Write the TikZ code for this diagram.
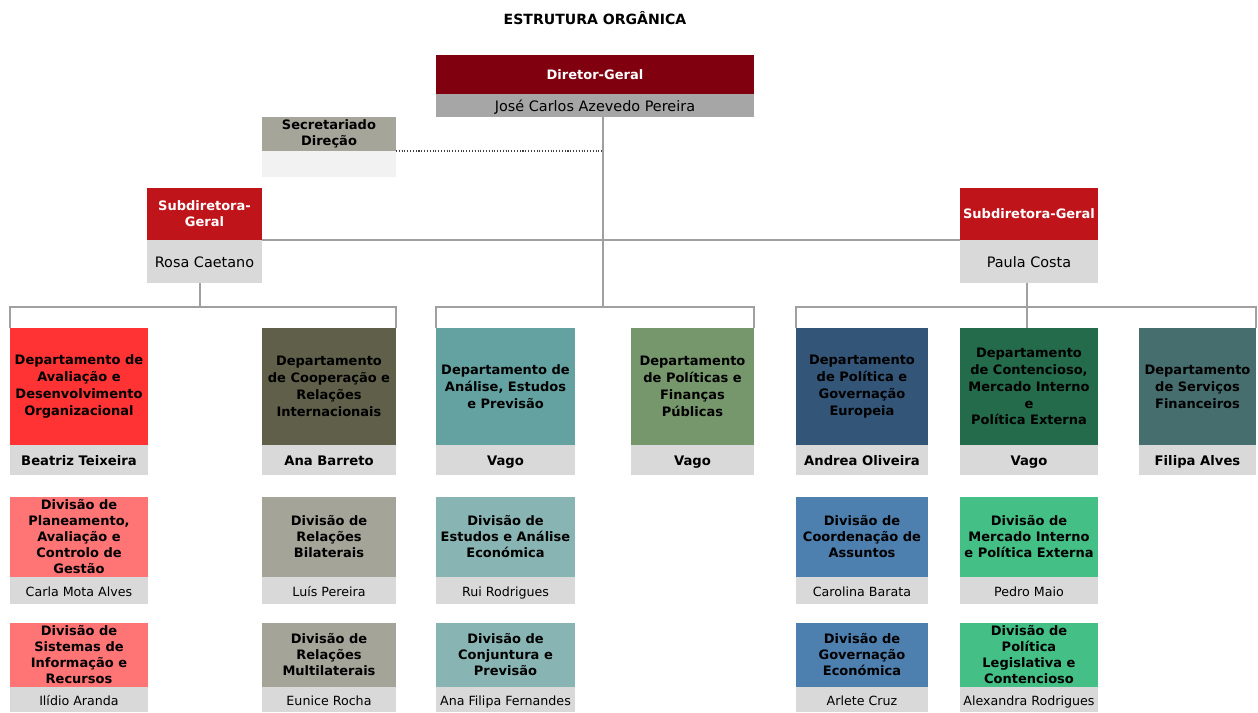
\documentclass[tikz,border=0pt]{standalone}
\usepackage{fontspec}
\setmainfont{DejaVu Sans}
\usetikzlibrary{positioning}

\definecolor{dgred}{HTML}{800010}
\definecolor{sdred}{HTML}{C0141B}
\definecolor{dggray}{HTML}{A6A6A6}
\definecolor{secgray}{HTML}{A5A59A}
\definecolor{secback}{HTML}{F2F2F2}
\definecolor{namegray}{HTML}{D9D9D9}
\definecolor{linegray}{HTML}{A0A0A0}
\definecolor{colA}{HTML}{FF3333}
\definecolor{colAd}{HTML}{FF7575}
\definecolor{colB}{HTML}{5F5F4A}
\definecolor{colBd}{HTML}{A4A498}
\definecolor{colC}{HTML}{64A2A2}
\definecolor{colCd}{HTML}{88B5B3}
\definecolor{colD}{HTML}{76966C}
\definecolor{colE}{HTML}{335577}
\definecolor{colEd}{HTML}{4D7FAF}
\definecolor{colF}{HTML}{236B4A}
\definecolor{colFd}{HTML}{44BF85}
\definecolor{colG}{HTML}{476E6E}

\begin{document}
\begin{tikzpicture}[x=0.02cm,y=-0.02cm,
  box/.style={inner sep=0pt,outer sep=0pt,align=center,anchor=north west},
  head box/.style={box,text=white,font=\fontsize{7.4}{9}\selectfont\bfseries},
  dept box/.style={box,minimum height=2.34cm,font=\fontsize{7.4}{9.6}\selectfont\bfseries},
  div box/.style={box,font=\fontsize{7.4}{9.1}\selectfont\bfseries},
  name box/.style={box,fill=namegray,text height=1.6ex,text depth=0.45ex,font=\fontsize{7.2}{9}\selectfont},
  boss name/.style={name box,minimum height=0.6cm,font=\fontsize{7.5}{9}\selectfont\bfseries},
  link/.style={draw=linegray,line width=1.1pt}]

  \useasboundingbox (0,0) rectangle (1258,713);

  \node[font=\fontsize{8}{10}\selectfont\bfseries] (title) at (595,18) {ESTRUTURA ORGÂNICA};

  % direction
  \node[head box,fill=dgred,minimum width=6.36cm,minimum height=0.78cm] (dg) at (436,55) {Diretor-Geral};
  \node[name box,fill=dggray,minimum width=6.36cm,minimum height=0.46cm,font=\fontsize{8.2}{10}\selectfont,below=0pt of dg] (dgn) {José Carlos Azevedo Pereira};

  \node[head box,text=black,fill=secgray,minimum width=2.68cm,minimum height=0.68cm] (sec) at (262,117) {Secretariado\\Direção};
  \node[name box,fill=secback,minimum width=2.68cm,minimum height=0.52cm,below=0pt of sec] (secn) {};

  \node[head box,fill=sdred,minimum width=2.3cm,minimum height=1.04cm] (sdl) at (147,188) {Subdiretora-\\Geral};
  \node[name box,minimum width=2.3cm,minimum height=0.86cm,font=\fontsize{8.2}{10}\selectfont,below=0pt of sdl] (sdln) {Rosa Caetano};

  \node[head box,fill=sdred,minimum width=2.76cm,minimum height=1.04cm] (sdr) at (960,188) {Subdiretora-Geral};
  \node[name box,minimum width=2.76cm,minimum height=0.86cm,font=\fontsize{8.2}{10}\selectfont,below=0pt of sdr] (sdrn) {Paula Costa};

  % departments
  \node[dept box,fill=colA,minimum width=2.76cm] (d1) at (10,328) {Departamento de\\Avaliação e\\Desenvolvimento\\Organizacional};
  \node[boss name,minimum width=2.76cm,below=0pt of d1] (d1n) {Beatriz Teixeira};
  \node[dept box,fill=colB,minimum width=2.68cm] (d2) at (262,328) {Departamento\\de Cooperação e\\Relações\\Internacionais};
  \node[boss name,minimum width=2.68cm,below=0pt of d2] (d2n) {Ana Barreto};
  \node[dept box,fill=colC,minimum width=2.78cm] (d3) at (436,328) {Departamento de\\Análise, Estudos\\e Previsão};
  \node[boss name,minimum width=2.78cm,below=0pt of d3] (d3n) {Vago};
  \node[dept box,fill=colD,minimum width=2.46cm] (d4) at (631,328) {Departamento\\de Políticas e\\Finanças\\Públicas};
  \node[boss name,minimum width=2.46cm,below=0pt of d4] (d4n) {Vago};
  \node[dept box,fill=colE,minimum width=2.64cm] (d5) at (796,328) {Departamento\\de Política e\\Governação\\Europeia};
  \node[boss name,minimum width=2.64cm,below=0pt of d5] (d5n) {Andrea Oliveira};
  \node[dept box,fill=colF,minimum width=2.76cm] (d6) at (960,328) {Departamento\\de Contencioso,\\Mercado Interno\\e\\Política Externa};
  \node[boss name,minimum width=2.76cm,below=0pt of d6] (d6n) {Vago};
  \node[dept box,fill=colG,minimum width=2.34cm] (d7) at (1139,328) {Departamento\\de Serviços\\Financeiros};
  \node[boss name,minimum width=2.34cm,below=0pt of d7] (d7n) {Filipa Alves};

  % divisions, first row
  \node[div box,fill=colAd,minimum width=2.76cm,minimum height=1.6cm] (v11) at (10,497) {Divisão de\\Planeamento,\\Avaliação e\\Controlo de\\Gestão};
  \node[name box,minimum width=2.76cm,minimum height=0.54cm,below=0pt of v11] (v11n) {Carla Mota Alves};
  \node[div box,fill=colBd,minimum width=2.68cm,minimum height=1.6cm] (v21) at (262,497) {Divisão de\\Relações\\Bilaterais};
  \node[name box,minimum width=2.68cm,minimum height=0.54cm,below=0pt of v21] (v21n) {Luís Pereira};
  \node[div box,fill=colCd,minimum width=2.78cm,minimum height=1.6cm] (v31) at (436,497) {Divisão de\\Estudos e Análise\\Económica};
  \node[name box,minimum width=2.78cm,minimum height=0.54cm,below=0pt of v31] (v31n) {Rui Rodrigues};
  \node[div box,fill=colEd,minimum width=2.64cm,minimum height=1.6cm] (v51) at (796,497) {Divisão de\\Coordenação de\\Assuntos};
  \node[name box,minimum width=2.64cm,minimum height=0.54cm,below=0pt of v51] (v51n) {Carolina Barata};
  \node[div box,fill=colFd,minimum width=2.76cm,minimum height=1.6cm] (v61) at (960,497) {Divisão de\\Mercado Interno\\e Política Externa};
  \node[name box,minimum width=2.76cm,minimum height=0.54cm,below=0pt of v61] (v61n) {Pedro Maio};

  % divisions, second row
  \node[div box,fill=colAd,minimum width=2.76cm,minimum height=1.28cm] (v12) at (10,623) {Divisão de\\Sistemas de\\Informação e\\Recursos};
  \node[name box,minimum width=2.76cm,minimum height=0.5cm,below=0pt of v12] (v12n) {Ilídio Aranda};
  \node[div box,fill=colBd,minimum width=2.68cm,minimum height=1.28cm] (v22) at (262,623) {Divisão de\\Relações\\Multilaterais};
  \node[name box,minimum width=2.68cm,minimum height=0.5cm,below=0pt of v22] (v22n) {Eunice Rocha};
  \node[div box,fill=colCd,minimum width=2.78cm,minimum height=1.28cm] (v32) at (436,623) {Divisão de\\Conjuntura e\\Previsão};
  \node[name box,minimum width=2.78cm,minimum height=0.5cm,below=0pt of v32] (v32n) {Ana Filipa Fernandes};
  \node[div box,fill=colEd,minimum width=2.64cm,minimum height=1.28cm] (v52) at (796,623) {Divisão de\\Governação\\Económica};
  \node[name box,minimum width=2.64cm,minimum height=0.5cm,below=0pt of v52] (v52n) {Arlete Cruz};
  \node[div box,fill=colFd,minimum width=2.76cm,minimum height=1.28cm] (v62) at (960,623) {Divisão de\\Política\\Legislativa e\\Contencioso};
  \node[name box,minimum width=2.76cm,minimum height=0.5cm,below=0pt of v62] (v62n) {Alexandra Rodrigues};

  % connectors
  \coordinate (dgx) at ([xshift=0.16cm]dgn.south);
  \coordinate (bus) at (0,307);
  \draw[link] (dgx) -- (dgx |- bus);
  \draw[link] (sdln.north east) -- (sdrn.north west);
  \draw[densely dotted,line width=0.6pt,black!75] (secn.north east) -- (secn.north east -| dgx);
  \draw[link] ([xshift=-0.09cm]sdln.south) -- ([xshift=-0.09cm]sdln.south |- bus);
  \draw[link] (d1.north west) -- (d1.north west |- bus) -- (d2.north east |- bus) -- (d2.north east);
  \draw[link] (d3.north west) -- (d3.north west |- bus) -- (d4.north east |- bus) -- (d4.north east);
  \draw[link] (d5.north west) -- (d5.north west |- bus) -- (d7.north east |- bus) -- (d7.north east);
  \draw[link] ([xshift=-0.04cm]sdrn.south) -- ([xshift=-0.04cm]sdrn.south |- d6.north);

\end{tikzpicture}
\end{document}
